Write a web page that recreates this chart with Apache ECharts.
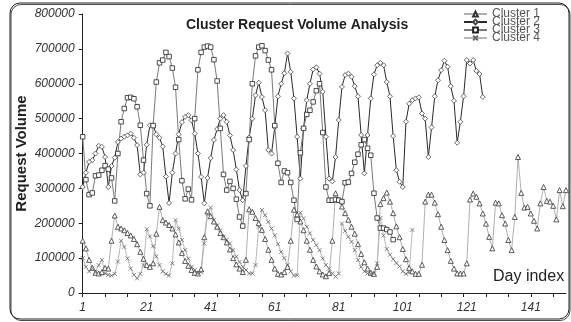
<!DOCTYPE html>
<html>
<head>
<meta charset="utf-8">
<script src="https://cdn.jsdelivr.net/npm/echarts@6/dist/echarts.min.js"></script>
<style>
  html, body { margin: 0; padding: 0; background: #fff; }
  #main { width: 571px; height: 322px; }
</style>
</head>
<body>
<div id="main"></div>
<script>
// day index 1..152
let dayIndex = [];
for (let d = 1; d <= 152; d++) {
    dayIndex.push(String(d));
}

// request volume (thousands)
let cluster1 = [
    150, 128, 95, 72, 58, 56, 60, 72, 70, 150,
    222, 190, 185, 180, 172, 165, 155, 140, 118, 98,
    80, 75, 85, 170, 247, 209, 202, 195, 185, 168,
    145, 115, 92, 78, 66, 58, 56, 68, 160, 234,
    220, 205, 190, 172, 160, 145, 125, 100, 82, 70,
    60, 95, 240, 233, 215, 200, 181, 155, 124, 95,
    70, 55, 53, 60, 75, 150, 239, 225, 205, 180,
    150, 124, 95, 76, 62, 53, 48, 57, 150, 286,
    267, 248, 229, 210, 190, 170, 140, 112, 88, 70,
    58, 55, 75, 255, 272, 288, 262, 229, 191, 160,
    126, 97, 72, 62, 55, 55, 81, 262, 282, 282,
    259, 226, 190, 152, 123, 92, 70, 56, 56, 56,
    85, 268, 285, 276, 257, 228, 199, 161, 128, 259,
    257, 223, 199, 152, 123, 218, 390, 287, 245, 247,
    228, 207, 185, 257, 304, 264, 262, 250, 211, 295,
    249, 295
];
let cluster2 = [
    304, 345, 376, 381, 400, 422, 419, 390, 304, 364,
    388, 433, 443, 448, 452, 457, 445, 424, 340, 345,
    425, 481, 481, 455, 445, 420, 334, 258, 345, 400,
    455, 490, 505, 510, 495, 457, 400, 333, 257, 330,
    387, 439, 470, 500, 510, 491, 452, 410, 354, 295,
    266, 364, 446, 500, 567, 603, 562, 524, 410, 400,
    476, 564, 600, 630, 687, 634, 558, 448, 328, 472,
    553, 600, 641, 647, 629, 577, 448, 328, 320, 390,
    496, 591, 625, 629, 620, 593, 564, 453, 343, 453,
    558, 627, 653, 660, 653, 605, 564, 450, 352, 319,
    304, 491, 543, 553, 558, 561, 515, 500, 390, 475,
    564, 610, 639, 666, 649, 593, 551, 431, 491, 564,
    668, 658, 668, 637, 628, 562
];
let cluster3 = [
    448, 325, 282, 287, 336, 338, 352, 365, 355, 330,
    264, 400, 491, 529, 560, 561, 557, 534, 481, 381,
    285, 250, 480, 605, 660, 668, 690, 678, 645, 590,
    440, 322, 270, 298, 267, 500, 640, 690, 705, 708,
    705, 669, 608, 472, 340, 295, 320, 300, 269, 218,
    192, 285, 440, 600, 680, 705, 709, 695, 668, 640,
    480, 372, 317, 350, 345, 317, 266, 211, 402, 472,
    512, 524, 548, 580, 600, 460, 304, 266, 266, 268,
    266, 262, 316, 318, 343, 375, 398, 425, 440, 415,
    395, 286, 215, 186, 186, 182, 175, 153
];
let cluster4 = [
    100, 75, 62, 70, 60, 80, 95, 56, 52, 50,
    55, 90, 150, 132, 99, 70, 52, 42, 55, 80,
    183, 162, 134, 105, 80, 62, 55, 50, 85, 209,
    185, 152, 123, 99, 75, 66, 56, 60, 142, 226,
    245, 209, 194, 180, 161, 153, 142, 123, 104, 89,
    75, 66, 56, 56, 80, 190, 238, 223, 204, 185,
    165, 140, 118, 100, 80, 62, 50, 51, 230, 214,
    190, 171, 152, 137, 123, 99, 80, 70, 56, 47,
    56, 199, 178, 161, 147, 123, 94, 75, 62, 56,
    55, 56, 85, 215, 165, 126, 110, 97, 86, 76,
    62, 55, 59, 181
];

let toVolume = arr => arr.map(v => v * 1000);

let chart = echarts.init(document.getElementById('main'));

// marker: open symbol, thin dark outline
function marker(symbol, size, border) {
    return {
        symbol: symbol,
        symbolSize: size,
        showAllSymbol: true,
        itemStyle: { color: '#fff', borderColor: border, borderWidth: 0.8 }
    };
}

let series = [
    Object.assign({
        name: 'Cluster 1', type: 'line', data: toVolume(cluster1),
        lineStyle: { color: '#b0b0b0', width: 1 }
    }, marker('triangle', 5, '#333')),
    Object.assign({
        name: 'Cluster 2', type: 'line', data: toVolume(cluster2),
        lineStyle: { color: '#2a2a2a', width: 1 }
    }, marker('diamond', 5, '#444')),
    Object.assign({
        name: 'Cluster 3', type: 'line', data: toVolume(cluster3),
        lineStyle: { color: '#7a7a7a', width: 1 }
    }, marker('rect', 4.5, '#222')),
    Object.assign({
        name: 'Cluster 4', type: 'line', data: toVolume(cluster4),
        lineStyle: { color: '#b8b8b8', width: 1 }
    }, marker('path://M0,0L10,10M10,0L0,10', 4, '#666'))
];

let option = {
    animation: false,
    backgroundColor: '#fff',
    title: {
        text: 'Cluster Request Volume Analysis',
        left: 181,
        top: 13,
        textStyle: { fontFamily: 'Liberation Sans', fontSize: 14, fontWeight: 'bold', color: '#222' }
    },
    legend: {
        orient: 'vertical',
        left: 463,
        top: 8,
        padding: 0,
        itemWidth: 23,
        itemHeight: 6,
        itemGap: -4,
        textStyle: { fontFamily: 'Liberation Sans', fontSize: 12, color: '#555' },
        data: ['Cluster 1', 'Cluster 2', 'Cluster 3', 'Cluster 4']
    },
    grid: { left: 82.7, right: 5, top: 14, bottom: 29, containLabel: false },
    xAxis: {
        type: 'category',
        data: dayIndex,
        boundaryGap: false,
        axisLine: { lineStyle: { color: '#222', width: 1 } },
        axisTick: { interval: 6, length: 4, lineStyle: { color: '#222' } },
        axisLabel: {
            interval: 19, margin: 9,
            fontFamily: 'Liberation Sans', fontSize: 12, fontStyle: 'italic', color: '#333'
        },
        splitLine: { show: false }
    },
    yAxis: {
        type: 'value',
        min: 0,
        max: 800000,
        interval: 100000,
        name: 'Request Volume',
        nameLocation: 'middle',
        nameRotate: 90,
        nameGap: 53,
        nameMoveOverlap: false,
        nameTextStyle: { fontFamily: 'Liberation Sans', fontSize: 15, fontWeight: 'bold', color: '#222' },
        axisLine: { show: true, lineStyle: { color: '#222', width: 1 } },
        axisTick: { show: true, length: 4, lineStyle: { color: '#222' } },
        axisLabel: {
            margin: 8, formatter: v => String(v),
            fontFamily: 'Liberation Sans', fontSize: 12, fontStyle: 'italic', color: '#333'
        },
        splitLine: { show: false }
    },
    graphic: [
        {
            type: 'text', left: 493, top: 269, silent: true,
            style: { text: 'Day index', font: '16px "Liberation Sans"', fill: '#222' }
        },
        {
            type: 'rect', silent: true, z: -1,
            shape: { x: 10, y: 3, width: 559, height: 316, r: 10 },
            style: {
                fill: 'none', stroke: '#222', lineWidth: 1,
                shadowColor: 'rgba(0,0,0,0.7)', shadowOffsetX: 1, shadowOffsetY: 1.5
            }
        }
    ],
    series: series
};

chart.setOption(option);
</script>
</body>
</html>
